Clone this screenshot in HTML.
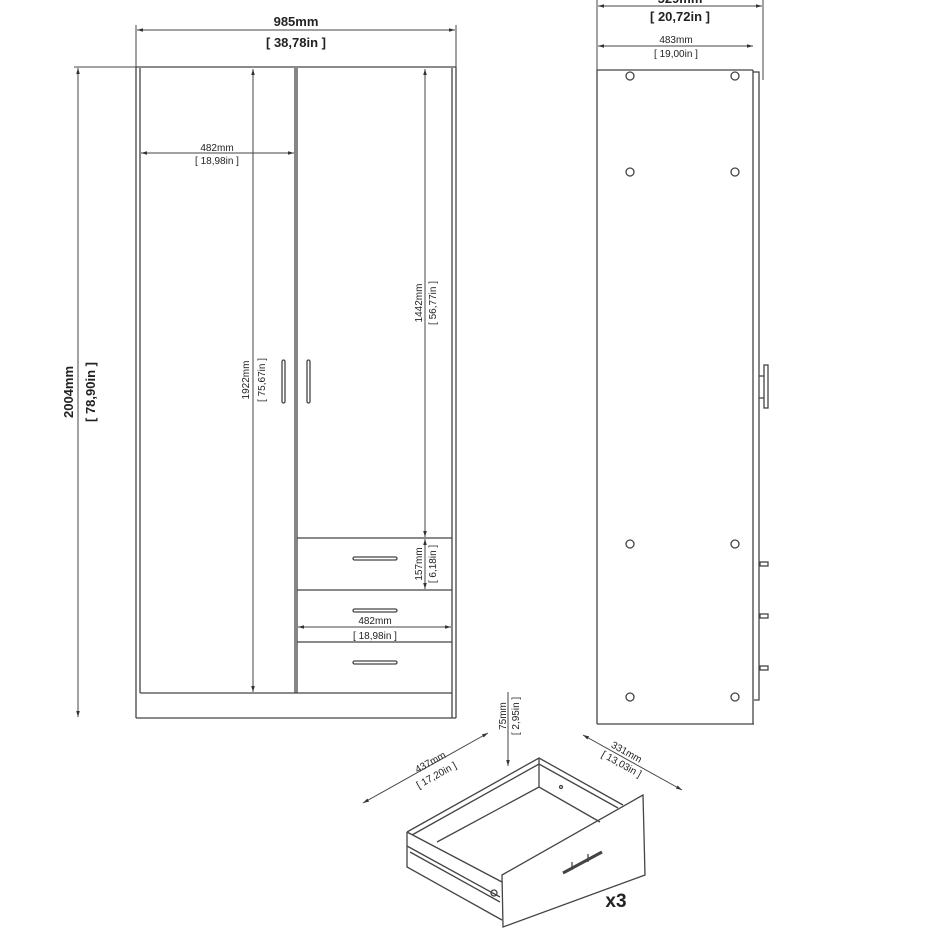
<!DOCTYPE html>
<html><head><meta charset="utf-8"><style>
body{margin:0;background:#fff}
svg{display:block}
text{font-family:"Liberation Sans",Arial,sans-serif;fill:#222}
</style></head><body>
<svg width="930" height="930" viewBox="0 0 930 930" xmlns="http://www.w3.org/2000/svg">
<defs>
<marker id="a" viewBox="0 0 10 10" refX="10" refY="5" markerWidth="6" markerHeight="6" orient="auto-start-reverse"><path d="M0,2 L10,5 L0,8z" fill="#333"/></marker>
</defs>
<g stroke="#444" stroke-width="1.3" fill="none">
<line x1="136" y1="67" x2="456" y2="67"/>
<line x1="136" y1="67" x2="136" y2="718"/>
<line x1="140" y1="68" x2="140" y2="693"/>
<line x1="452" y1="68" x2="452" y2="718"/>
<line x1="456" y1="67" x2="456" y2="718"/>
<line x1="295" y1="68" x2="295" y2="693"/>
<line x1="297" y1="68" x2="297" y2="693"/>
<line x1="140" y1="693" x2="452" y2="693"/>
<line x1="136" y1="718" x2="456" y2="718"/>
<line x1="297" y1="538" x2="452" y2="538"/>
<line x1="297" y1="590" x2="452" y2="590"/>
<line x1="297" y1="642" x2="452" y2="642"/>
<rect x="353" y="557" width="44" height="3" rx="1.5"/>
<rect x="353" y="609" width="44" height="3" rx="1.5"/>
<rect x="353" y="661" width="44" height="3" rx="1.5"/>
<rect x="282" y="360" width="3" height="43" rx="1.5"/>
<rect x="307" y="360" width="3" height="43" rx="1.5"/>
<line x1="136" y1="25" x2="136" y2="67" stroke-width="1"/>
<line x1="456" y1="25" x2="456" y2="67" stroke-width="1"/>
<line x1="137" y1="30" x2="455" y2="30" stroke-width="1" marker-start="url(#a)" marker-end="url(#a)"/>
<line x1="74" y1="67" x2="136" y2="67" stroke-width="1"/>
<line x1="78" y1="68" x2="78" y2="717" stroke-width="1" marker-start="url(#a)" marker-end="url(#a)"/>
<line x1="141" y1="153" x2="294" y2="153" stroke-width="1" marker-start="url(#a)" marker-end="url(#a)"/>
<line x1="253" y1="69" x2="253" y2="692" stroke-width="1" marker-start="url(#a)" marker-end="url(#a)"/>
<line x1="425" y1="69" x2="425" y2="537" stroke-width="1" marker-start="url(#a)" marker-end="url(#a)"/>
<line x1="425" y1="539" x2="425" y2="589" stroke-width="1" marker-start="url(#a)" marker-end="url(#a)"/>
<line x1="298" y1="627" x2="451" y2="627" stroke-width="1" marker-start="url(#a)" marker-end="url(#a)"/>
<line x1="597" y1="70" x2="753" y2="70"/>
<line x1="597" y1="70" x2="597" y2="724"/>
<line x1="597" y1="724" x2="754" y2="724"/>
<line x1="753" y1="70" x2="753" y2="724"/>
<polyline points="753,72 759,72 759,700 754,700"/>
<rect x="764" y="365" width="4" height="43"/>
<line x1="759" y1="376" x2="764" y2="376"/><line x1="759" y1="398" x2="764" y2="398"/>
<rect x="760" y="562" width="8" height="4"/>
<rect x="760" y="614" width="8" height="4"/>
<rect x="760" y="666" width="8" height="4"/>
<circle cx="630" cy="76" r="4"/><circle cx="735" cy="76" r="4"/>
<circle cx="630" cy="172" r="4"/><circle cx="735" cy="172" r="4"/>
<circle cx="630" cy="544" r="4"/><circle cx="735" cy="544" r="4"/>
<circle cx="630" cy="697" r="4"/><circle cx="735" cy="697" r="4"/>
<line x1="597" y1="0" x2="597" y2="70" stroke-width="1"/>
<line x1="763" y1="0" x2="763" y2="80" stroke-width="1"/>
<line x1="598" y1="6" x2="762" y2="6" stroke-width="1" marker-start="url(#a)" marker-end="url(#a)"/>
<line x1="598" y1="46" x2="753" y2="46" stroke-width="1" marker-start="url(#a)" marker-end="url(#a)"/>
<polyline points="407,832 539,758 623,805"/>
<polyline points="412,835 539,764 618,808"/>
<line x1="539" y1="758" x2="539" y2="787"/>
<polyline points="437,842 539,787 600,822"/>
<polyline points="407,832 407,867 502,920"/>
<line x1="407" y1="832" x2="502" y2="882"/>
<line x1="407" y1="846" x2="500" y2="897"/>
<line x1="410" y1="852" x2="500" y2="902"/>
<polygon points="502,875 643,795 645,875 503,927"/>
<line x1="563" y1="873" x2="602" y2="852" stroke-width="3"/>
<line x1="572" y1="862" x2="572" y2="870"/><line x1="588" y1="854" x2="588" y2="862"/>
<circle cx="494" cy="893" r="3"/>
<circle cx="561" cy="787" r="1.5"/>
<line x1="363" y1="803" x2="488" y2="733" stroke-width="1" marker-start="url(#a)" marker-end="url(#a)"/>
<line x1="583" y1="735" x2="682" y2="790" stroke-width="1" marker-start="url(#a)" marker-end="url(#a)"/>
<line x1="508" y1="692" x2="508" y2="766" stroke-width="1" marker-end="url(#a)"/>
</g>
<g font-size="13" font-weight="bold" text-anchor="middle">
<text x="296" y="26">985mm</text>
<text x="296" y="47">[ 38,78in ]</text>
<text transform="translate(73,392) rotate(-90)">2004mm</text>
<text transform="translate(95,392) rotate(-90)">[ 78,90in ]</text>
<text x="680" y="3">529mm</text>
<text x="680" y="21">[ 20,72in ]</text>
<text x="616" y="907" font-size="19">x3</text>
</g>
<g font-size="10" text-anchor="middle">
<text x="217" y="151">482mm</text>
<text x="217" y="164">[ 18,98in ]</text>
<text transform="translate(249,380) rotate(-90)">1922mm</text>
<text transform="translate(265,380) rotate(-90)">[ 75,67in ]</text>
<text transform="translate(422,303) rotate(-90)">1442mm</text>
<text transform="translate(436,303) rotate(-90)">[ 56,77in ]</text>
<text transform="translate(422,564) rotate(-90)">157mm</text>
<text transform="translate(436,564) rotate(-90)">[ 6,18in ]</text>
<text x="375" y="624">482mm</text>
<text x="375" y="639">[ 18,98in ]</text>
<text x="676" y="43">483mm</text>
<text x="676" y="57">[ 19,00in ]</text>
<text transform="translate(506,716) rotate(-90)">75mm</text>
<text transform="translate(519,716) rotate(-90)">[ 2,95in ]</text>
<text transform="translate(432,765) rotate(-29)">437mm</text>
<text transform="translate(438,778) rotate(-29)">[ 17,20in ]</text>
<text transform="translate(625,755) rotate(29)">331mm</text>
<text transform="translate(620,767) rotate(29)">[ 13,03in ]</text>
</g>
</svg>
</body></html>
